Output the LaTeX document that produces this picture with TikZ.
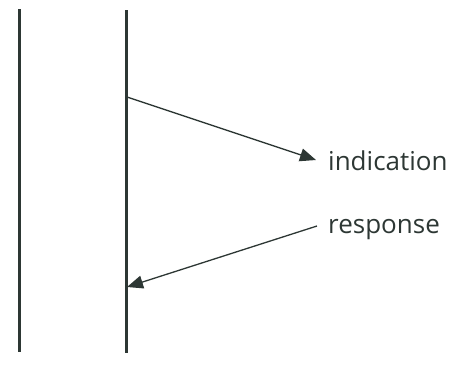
\documentclass[tikz,border=0pt]{standalone}
\usepackage{fontspec}
\setmainfont{Open Sans}
\usetikzlibrary{arrows.meta}
\definecolor{lifeline}{RGB}{45,55,52}

\begin{document}
\begin{tikzpicture}[
		x=1pt, y=-1pt,
		lifeline/.style={draw=lifeline, line width=3pt},
		msg/.style={draw=lifeline, line width=1.3pt, -{Triangle[length=16pt, width=13pt]}},
		msglabel/.style={anchor=base west, inner sep=0pt, font=\fontsize{26}{31}\selectfont, text=lifeline}
		]
		\useasboundingbox (0,0) rectangle (459,376);
		% two lifelines
		\coordinate (atop) at (19,9);
		\coordinate (abot) at (19,352);
		\coordinate (btop) at (126,10);
		\coordinate (bbot) at (126,353);
		\draw[lifeline] (atop) -- (abot);
		\draw[lifeline] (btop) -- (bbot);
		% messages
		\node[msglabel] (ind) at (328,170) {indication};
		\node[msglabel] (resp) at (328,233) {response};
		\coordinate (indfrom) at (127,97);
		\coordinate (indto) at (316,160);
		\coordinate (respfrom) at (317,226);
		\coordinate (respto) at (127,287);
		\draw[msg] (indfrom) -- (indto);
		\draw[msg] (respfrom) -- (respto);
	\end{tikzpicture}
\end{document}
